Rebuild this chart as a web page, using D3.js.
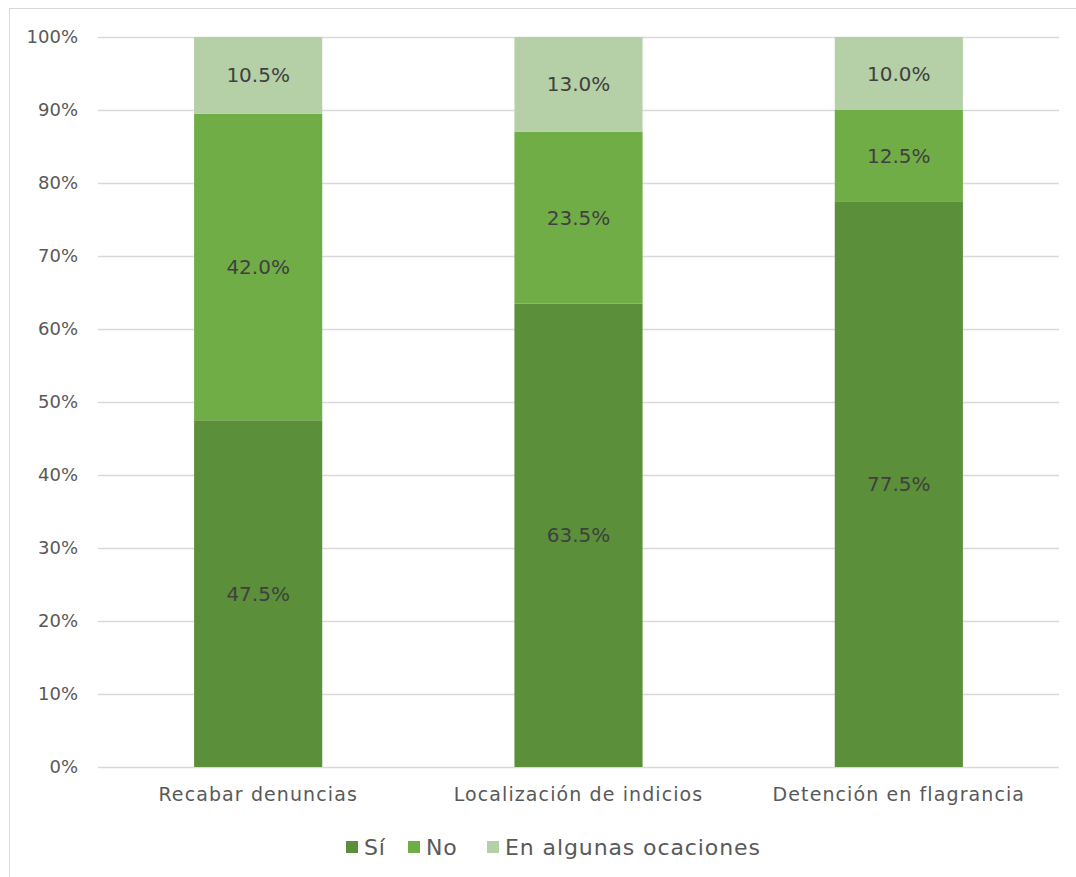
<!DOCTYPE html>
<html><head><meta charset="utf-8">
<script src="https://cdn.jsdelivr.net/npm/d3@7"></script>
<style>body{margin:0;background:#fff}svg{display:block}</style>
</head><body>
<script>
const categories = ["Recabar denuncias", "Localización de indicios", "Detención en flagrancia"];
const seriesNames = ["Sí", "No", "En algunas ocaciones"];
const si = [47.5, 63.5, 77.5];
const no = [42.0, 23.5, 12.5];
const algunas = [10.5, 13.0, 10.0];
const tickValues = [0, 10, 20, 30, 40, 50, 60, 70, 80, 90, 100];
const colors = ["#5b8f39", "#70ad47", "#b5cfa7"];

const W = 1076, H = 877;
const FONT = "'DejaVu Sans', sans-serif";
const TXT = "#595959";
const svg = d3.select("body").append("svg").attr("width", W).attr("height", H);

svg.append("rect").attr("x", 9.5).attr("y", 8.5).attr("width", 1100).attr("height", 900)
  .attr("fill", "#fff").attr("stroke", "#d9d9d9");

const m = {left: 98, right: 1059, top: 37, bottom: 767};
const x = d3.scaleBand().domain(categories).range([m.left, m.right]).paddingInner(0.6).paddingOuter(0.3);
const y = d3.scaleLinear().domain([0, 100]).range([m.bottom, m.top]);

// gridlines
svg.append("g").selectAll("line").data(tickValues).join("line")
  .attr("x1", m.left).attr("x2", m.right)
  .attr("y1", d => Math.round(y(d)) + 0.5).attr("y2", d => Math.round(y(d)) + 0.5)
  .attr("stroke", "#d9d9d9").attr("stroke-width", 1.5);

// y axis labels
const yAxis = d3.axisLeft(y).tickValues(tickValues).tickFormat(d => d + "%").tickSize(0).tickPadding(20);
const ya = svg.append("g").attr("transform", `translate(${m.left},0)`).call(yAxis);
ya.select(".domain").remove();
ya.selectAll("text").attr("font-family", FONT).attr("font-size", 18).attr("fill", TXT);

// stacked data
const rows = categories.map((c, i) => ({cat: c, "Sí": si[i], "No": no[i], "En algunas ocaciones": algunas[i]}));
const stack = d3.stack().keys(seriesNames)(rows);

const g = svg.append("g");
stack.forEach((s, k) => {
  const sg = g.append("g");
  sg.selectAll("rect").data(s).join("rect")
    .attr("x", d => x(d.data.cat)).attr("width", x.bandwidth())
    .attr("y", d => y(d[1])).attr("height", d => y(d[0]) - y(d[1]))
    .attr("fill", colors[k]);
  sg.selectAll("text").data(s).join("text")
    .attr("x", d => x(d.data.cat) + x.bandwidth() / 2)
    .attr("y", d => (y(d[0]) + y(d[1])) / 2)
    .attr("dy", "0.35em").attr("text-anchor", "middle")
    .attr("font-family", FONT).attr("font-size", 20).attr("fill", "#404040")
    .text(d => (d[1] - d[0]).toFixed(1) + "%");
});

// x axis labels
const xAxis = d3.axisBottom(x).tickSize(0).tickPadding(21);
const xa = svg.append("g").attr("transform", `translate(0,${m.bottom})`).call(xAxis);
xa.select(".domain").remove();
xa.selectAll("text").attr("font-family", FONT).attr("font-size", 19).attr("letter-spacing", 1.1).attr("fill", TXT);

// legend
const legendX = [346, 408, 487];
const lg = svg.append("g");
seriesNames.forEach((n, i) => {
  lg.append("rect").attr("x", legendX[i]).attr("y", 841).attr("width", 12).attr("height", 12).attr("fill", colors[i]);
  lg.append("text").attr("x", legendX[i] + 18).attr("y", 847).attr("dy", "0.35em")
    .attr("font-family", FONT).attr("font-size", 22).attr("letter-spacing", 0.9).attr("fill", TXT).text(n);
});
</script>
</body></html>
